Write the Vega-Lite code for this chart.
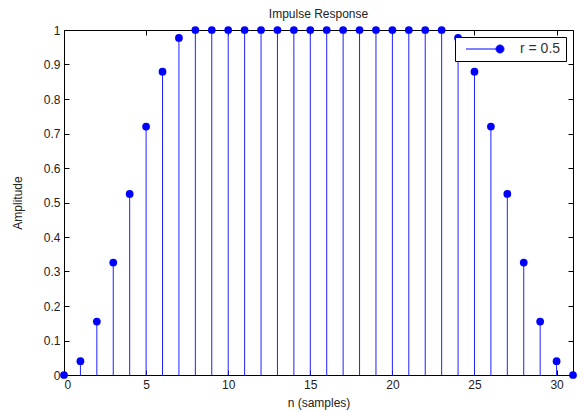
{
  "$schema": "https://vega.github.io/schema/vega-lite/v6.json",
  "width": 509,
  "height": 345,
  "autosize": {"type": "none"},
  "padding": {"left": 64, "top": 30, "right": 13, "bottom": 37},
  "background": "white",
  "title": {"text": "Impulse Response", "fontSize": 12, "fontWeight": "normal", "font": "Liberation Sans", "color": "#222222", "offset": 3, "anchor": "middle"},
  "config": {
    "view": {"stroke": "black", "strokeWidth": 1},
    "axis": {"grid": false, "domainColor": "black", "tickColor": "black", "labelFont": "Liberation Sans", "titleFont": "Liberation Sans", "labelFontSize": 12, "titleFontSize": 12, "titleFontWeight": "normal", "labelColor": "#222222", "titleColor": "#222222", "tickSize": -5, "labelPadding": 9}
  },
  "data": {"values": [
    {"n": 0, "amp": 0},
    {"n": 1, "amp": 0.040},
    {"n": 2, "amp": 0.155},
    {"n": 3, "amp": 0.326},
    {"n": 4, "amp": 0.525},
    {"n": 5, "amp": 0.720},
    {"n": 6, "amp": 0.879},
    {"n": 7, "amp": 0.977},
    {"n": 8, "amp": 1},
    {"n": 9, "amp": 1},
    {"n": 10, "amp": 1},
    {"n": 11, "amp": 1},
    {"n": 12, "amp": 1},
    {"n": 13, "amp": 1},
    {"n": 14, "amp": 1},
    {"n": 15, "amp": 1},
    {"n": 16, "amp": 1},
    {"n": 17, "amp": 1},
    {"n": 18, "amp": 1},
    {"n": 19, "amp": 1},
    {"n": 20, "amp": 1},
    {"n": 21, "amp": 1},
    {"n": 22, "amp": 1},
    {"n": 23, "amp": 1},
    {"n": 24, "amp": 0.977},
    {"n": 25, "amp": 0.879},
    {"n": 26, "amp": 0.720},
    {"n": 27, "amp": 0.525},
    {"n": 28, "amp": 0.326},
    {"n": 29, "amp": 0.155},
    {"n": 30, "amp": 0.040},
    {"n": 31, "amp": 0}
  ]},
  "layer": [
    {
      "mark": {"type": "rule", "color": "#2020ff", "strokeWidth": 1},
      "encoding": {
        "x": {"field": "n", "type": "quantitative", "scale": {"domain": [0, 31], "nice": false, "zero": false}, "axis": {"values": [0, 5, 10, 15, 20, 25, 30], "title": "n (samples)", "titlePadding": 7, "format": "d"}},
        "y": {"field": "amp", "type": "quantitative", "scale": {"domain": [0, 1], "nice": false}, "axis": {"values": [0, 0.1, 0.2, 0.3, 0.4, 0.5, 0.6, 0.7, 0.8, 0.9, 1], "title": "Amplitude", "titlePadding": 19, "format": "~g"}},
        "y2": {"datum": 0}
      }
    },
    {
      "mark": {"type": "point", "filled": true, "opacity": 1, "size": 60, "shape": "circle"},
      "encoding": {
        "x": {"field": "n", "type": "quantitative", "axis": {"orient": "top", "values": [0, 5, 10, 15, 20, 25, 30], "labels": false, "title": null, "domain": false}},
        "y": {"field": "amp", "type": "quantitative", "axis": {"orient": "right", "values": [0, 0.1, 0.2, 0.3, 0.4, 0.5, 0.6, 0.7, 0.8, 0.9, 1], "labels": false, "title": null, "domain": false}},
        "color": {"datum": "r = 0.5", "type": "nominal", "scale": {"range": ["#0000ff"]}, "legend": {"title": null, "orient": "top-right", "offset": 7, "strokeColor": "black", "fillColor": "white", "padding": 5, "labelFont": "Liberation Sans", "labelFontSize": 14, "labelColor": "#333333", "symbolType": "M-0.2,0L5.8,0M7.4,0A0.8,0.8 0 1,1 5.8,0A0.8,0.8 0 1,1 7.4,0Z", "symbolSize": 100, "symbolStrokeWidth": 1, "symbolStrokeColor": "#0000ff", "symbolFillColor": "#0000ff", "labelOffset": 46, "cornerRadius": 0}}
      }
    }
  ],
  "resolve": {"axis": {"x": "independent", "y": "independent"}}
}
